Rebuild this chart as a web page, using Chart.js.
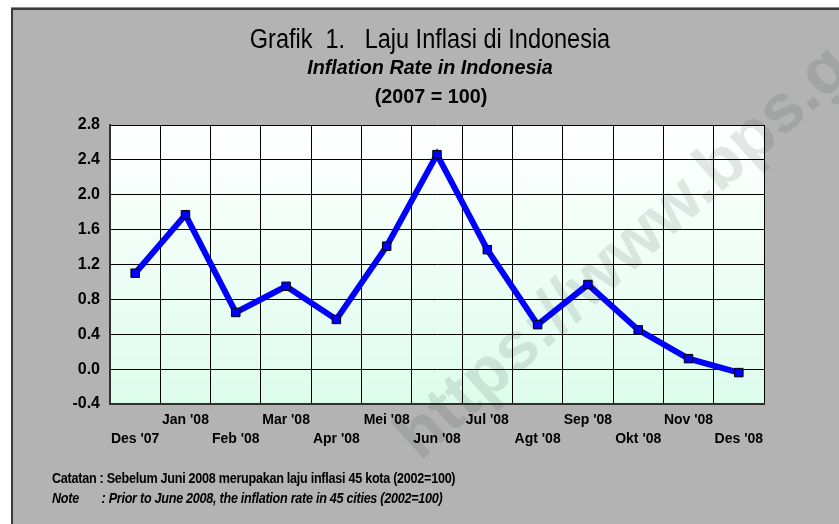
<!DOCTYPE html>
<html lang="id">
<head>
  <meta charset="UTF-8">
  <title>Grafik 1. Laju Inflasi di Indonesia</title>
  <script src="https://cdn.jsdelivr.net/npm/chart.js"></script>
  <style>
    html, body { margin: 0; padding: 0; background: #fff; }
    #wrap { position: relative; width: 839px; height: 524px; overflow: hidden; }
    #wrap canvas { position: absolute; left: 0; top: 0; }
    .txt { position: absolute; font-family: "Liberation Sans", Arial, sans-serif; color: #000; white-space: pre; }
    #t1 { left: 0; width: 860px; top: 24px; text-align: center; font-size: 27px; transform: scaleX(0.87); }
    #t2 { left: 0; width: 860px; top: 55px; text-align: center; font-size: 21px; font-weight: bold; font-style: italic; transform: scaleX(0.94); }
    #t3 { left: 0; width: 862px; top: 84px; text-align: center; font-size: 21px; font-weight: bold; transform: scaleX(0.94); }
    #n1 { left: 52px; top: 470px; font-size: 14px; font-weight: bold; letter-spacing: -0.3px; transform: scaleX(0.9); transform-origin: left center; }
    #n2 { left: 52px; top: 490px; font-size: 14px; font-weight: bold; font-style: italic; letter-spacing: -0.3px; transform: scaleX(0.9); transform-origin: left center; }
  </style>
</head>
<body>
  <div id="wrap">
    <canvas id="inflasiChart" width="839" height="524"></canvas>
    <div class="txt" id="t1">Grafik  1.   Laju Inflasi di Indonesia</div>
    <div class="txt" id="t2">Inflation Rate in Indonesia</div>
    <div class="txt" id="t3">(2007 = 100)</div>
    <div class="txt" id="n1">Catatan : Sebelum Juni 2008 merupakan laju inflasi 45 kota (2002=100)</div>
    <div class="txt" id="n2">Note       : Prior to June 2008, the inflation rate in 45 cities (2002=100)</div>
  </div>

  <script>
    // data
    const bulan = ["Des '07", "Jan '08", "Feb '08", "Mar '08", "Apr '08", "Mei '08", "Jun '08",
                   "Jul '08", "Agt '08", "Sep '08", "Okt '08", "Nov '08", "Des '08"];
    const inflasi = [1.10, 1.77, 0.65, 0.95, 0.57, 1.41, 2.46, 1.37, 0.51, 0.97, 0.45, 0.12, -0.04];
    const yMin = -0.4, yMax = 2.8, yStep = 0.4;
    const watermark = 'https://www.bps.go.id';

    const fontSans = '"Liberation Sans", Arial, sans-serif';

    // gray frame, plot gradient and the watermark under grid + line
    const backdrop = {
      id: 'backdrop',
      beforeDraw(chart) {
        const { ctx, chartArea: a, width, height } = chart;
        ctx.save();
        ctx.fillStyle = '#ffffff';
        ctx.fillRect(0, 0, width, height);
        ctx.fillStyle = '#b3b3b3';
        ctx.fillRect(11, 8, width - 11, height - 8);
        ctx.fillStyle = '#8a8a8a';
        ctx.fillRect(11, 7, width - 11, 1);
        ctx.fillStyle = '#3c3c3c';
        ctx.fillRect(11, 8, width - 11, 2);
        ctx.fillRect(11, 8, 2, height - 8);
        const g = ctx.createLinearGradient(0, a.top, 0, a.bottom);
        g.addColorStop(0, '#ffffff');
        g.addColorStop(1, '#dcfcec');
        ctx.fillStyle = g;
        ctx.fillRect(a.left, a.top, a.right - a.left, a.bottom - a.top);

        ctx.translate(420, 462);
        ctx.rotate(-0.73);
        ctx.font = 'bold 68px ' + fontSans;
        ctx.fillStyle = 'rgba(40, 60, 50, 0.12)';
        ctx.fillText(watermark, 0, 0);
        ctx.restore();
      }
    };

    new Chart(document.getElementById('inflasiChart'), {
      type: 'line',
      data: {
        labels: bulan,
        datasets: [{
          data: inflasi,
          borderColor: '#0000ff',
          borderWidth: 6,
          tension: 0,
          pointStyle: 'rect',
          pointRadius: 6,
          pointHoverRadius: 6,
          pointBackgroundColor: '#0000ff',
          pointBorderColor: '#000000',
          pointBorderWidth: 1
        }]
      },
      options: {
        responsive: false,
        animation: false,
        layout: { padding: { left: 10, top: 125, right: 75, bottom: 70 } },
        plugins: {
          legend: { display: false },
          tooltip: { enabled: false }
        },
        scales: {
          x: {
            offset: true,
            grid: { offset: true, color: '#000000', lineWidth: 1, drawTicks: false },
            border: { color: '#303030', width: 2 },
            ticks: {
              padding: 6,
              maxRotation: 0,
              autoSkip: false,
              color: '#000',
              font: { family: fontSans, size: 14, weight: 'bold', lineHeight: 1.4 },
              callback: (v, i) => i % 2 ? [bulan[i], ''] : ['', bulan[i]]
            },
            afterFit: s => { s.height = 50; }
          },
          y: {
            min: yMin,
            max: yMax,
            grid: { color: '#000000', lineWidth: 1, drawTicks: false },
            border: { color: '#303030', width: 2 },
            ticks: {
              stepSize: yStep,
              padding: 10,
              color: '#000',
              font: { family: fontSans, size: 16, weight: 'bold' },
              callback: v => (Math.abs(v) < 1e-9 ? 0 : v).toFixed(1)
            },
            afterFit: s => { s.width = 100; }
          }
        }
      },
      plugins: [backdrop]
    });
  </script>
</body>
</html>
